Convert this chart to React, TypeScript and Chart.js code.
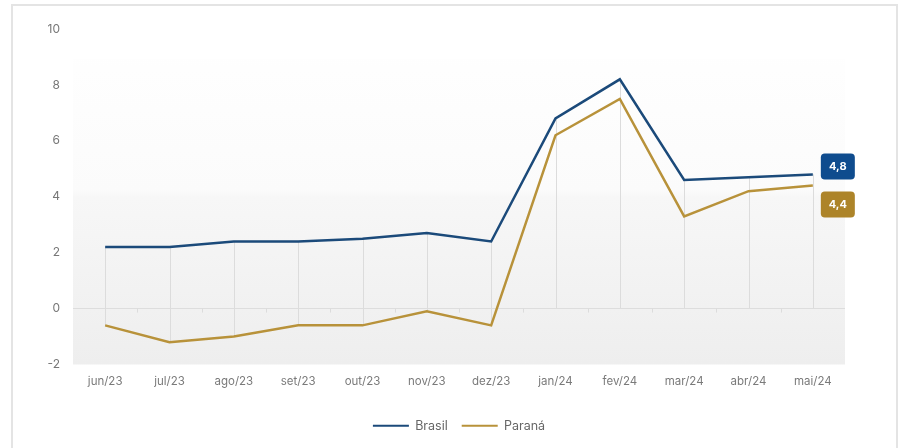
import React, { useEffect, useRef } from "react";
import { Chart, registerables } from "chart.js";

Chart.register(...registerables);

const categories = ["jun/23", "jul/23", "ago/23", "set/23", "out/23", "nov/23", "dez/23", "jan/24", "fev/24", "mar/24", "abr/24", "mai/24"];
const brasil = [2.2, 2.2, 2.4, 2.4, 2.5, 2.7, 2.4, 6.8, 8.2, 4.6, 4.7, 4.8];
const parana = [-0.6, -1.2, -1.0, -0.6, -0.6, -0.1, -0.6, 6.2, 7.5, 3.3, 4.2, 4.4];
const seriesNames = ["Brasil", "Paraná"];
const seriesColors = ["#1b4a7a", "#b8923a"];
const badgeColors = ["#0f4c8e", "#ad8429"];
const badgeOffsets = [-8, 19];

const bgPlugin = {
  id: "bgPlugin",
  beforeDraw(chart: any) {
    const { ctx, chartArea: a, width, height } = chart;
    ctx.save();
    ctx.fillStyle = "#ffffff";
    ctx.fillRect(0, 0, width, height);
    const g = ctx.createLinearGradient(0, a.top, 0, a.bottom);
    g.addColorStop(0, "#ffffff");
    g.addColorStop(0.48, "#fbfbfb");
    g.addColorStop(0.5, "#f7f7f7");
    g.addColorStop(1, "#eeeeee");
    ctx.fillStyle = g;
    ctx.fillRect(a.left, a.top + 30, a.right - a.left, a.bottom - a.top - 30);
    ctx.strokeStyle = "#e4e4e4";
    ctx.lineWidth = 2;
    ctx.strokeRect(12, 5, 885, height + 20);
    ctx.restore();
  },
  beforeDatasetsDraw(chart: any) {
    const { ctx, chartArea: a } = chart;
    const x = chart.scales.x;
    const y = chart.scales.y;
    const y0 = y.getPixelForValue(0);
    ctx.save();
    ctx.strokeStyle = "#dcdcdc";
    ctx.lineWidth = 1;
    for (let i = 0; i < categories.length; i++) {
      const px = Math.round(x.getPixelForValue(i)) + 0.5;
      const vals = chart.data.datasets.map((d: any) => d.data[i]);
      const top = y.getPixelForValue(Math.max(...vals));
      const bot = y.getPixelForValue(Math.min(0, ...vals));
      ctx.beginPath();
      ctx.moveTo(px, top);
      ctx.lineTo(px, bot);
      ctx.stroke();
    }
    const step = (a.right - a.left) / categories.length;
    for (let i = 1; i < categories.length; i++) {
      const px = Math.round(a.left + step * i) + 0.5;
      ctx.beginPath();
      ctx.moveTo(px, y0);
      ctx.lineTo(px, y0 + 4);
      ctx.stroke();
    }
    ctx.restore();
  },
  afterDatasetsDraw(chart: any) {
    const { ctx } = chart;
    ctx.save();
    chart.data.datasets.forEach((d: any, di: number) => {
      const meta = chart.getDatasetMeta(di);
      const pt = meta.data[meta.data.length - 1];
      const v = d.data[d.data.length - 1];
      const w = 34, h = 26;
      const bx = pt.x + 8;
      const by = pt.y + badgeOffsets[di] - h / 2;
      ctx.fillStyle = badgeColors[di];
      ctx.beginPath();
      (ctx as any).roundRect(bx, by, w, h, 4);
      ctx.fill();
      ctx.fillStyle = "#ffffff";
      ctx.font = "bold 11px Inter";
      ctx.textAlign = "center";
      ctx.textBaseline = "middle";
      ctx.fillText(String(v.toFixed(1)).replace(".", ","), bx + w / 2, by + h / 2 + 0.5);
    });
    ctx.restore();
  },
};

export default function App() {
  const ref = useRef<HTMLCanvasElement>(null);
  useEffect(() => {
    if (!ref.current) return;
    Chart.defaults.font.family = "Inter";
    const chart = new Chart(ref.current, {
      type: "line",
      data: {
        labels: categories,
        datasets: [brasil, parana].map((data, i) => ({
          label: seriesNames[i],
          data,
          borderColor: seriesColors[i],
          backgroundColor: seriesColors[i],
          borderWidth: 2.5,
          pointRadius: 0,
          tension: 0,
        })),
      },
      options: {
        animation: false,
        responsive: true,
        maintainAspectRatio: false,
        layout: { padding: { left: 0, right: 58, top: 29, bottom: 6 } },
        scales: {
          x: {
            offset: true,
            grid: { display: false },
            border: { display: false },
            ticks: { color: "#7a7a7a", font: { size: 11.5 }, padding: 2, maxRotation: 0 },
            afterFit: (s: any) => { s.height = 41; },
          },
          y: {
            min: -2,
            max: 10,
            ticks: { stepSize: 2, color: "#777777", font: { size: 12 }, padding: 13 },
            grid: {
              drawTicks: false,
              color: (c: any) => (c.tick && c.tick.value === 0 ? "#dddddd" : "rgba(0,0,0,0)"),
            },
            border: { display: false },
            afterFit: (s: any) => { s.width = 73; },
          },
        },
        plugins: {
          tooltip: { enabled: false },
          legend: {
            position: "bottom",
            fullSize: false,
            labels: {
              boxWidth: 36,
              boxHeight: 2,
              padding: 14,
              color: "#666666",
              font: { size: 12.5 },
              generateLabels: (c: any) =>
                Chart.defaults.plugins.legend.labels.generateLabels(c).map((l: any) => ({ ...l, lineWidth: 0 })),
            },
          },
        },
      },
      plugins: [bgPlugin],
    });
    return () => chart.destroy();
  }, []);
  return (
    <div style={{ position: "absolute", left: 0, top: 0, width: 903, height: 448 }}>
      <canvas ref={ref} />
    </div>
  );
}
